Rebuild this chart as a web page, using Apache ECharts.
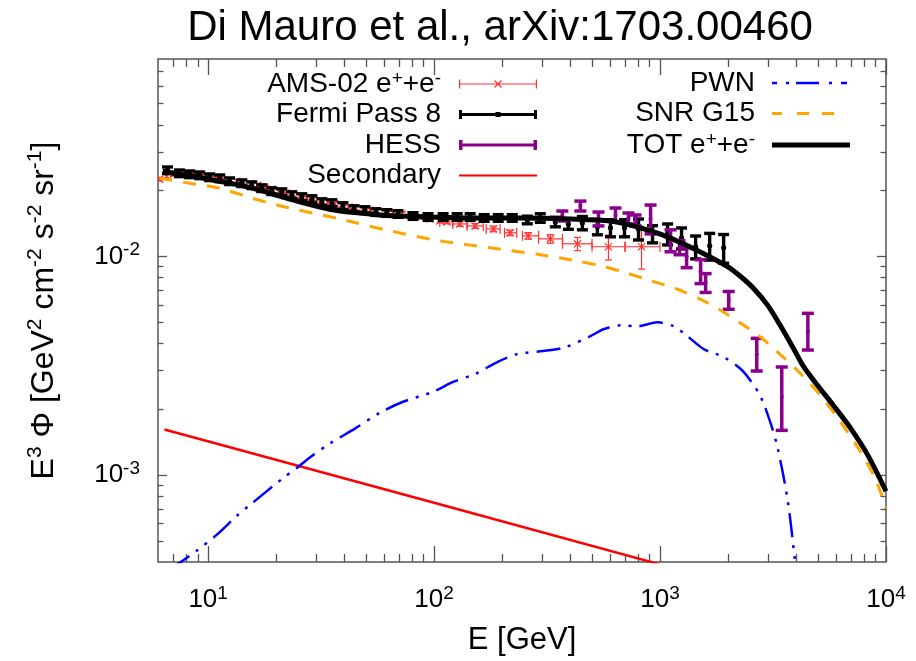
<!DOCTYPE html>
<html><head><meta charset="utf-8">
<script src="https://cdn.jsdelivr.net/npm/echarts@6/dist/echarts.min.js"></script>
<style>html,body{margin:0;padding:0;background:#fff}#c{width:916px;height:661px}</style>
</head><body><div id="c"></div>
<script>
// ---------------- data ----------------
const titleText = 'Di Mauro et al., arXiv:1703.00460';
const xRange = [6, 10000];          // E [GeV]
const yRange = [4e-4, 0.08];        // E^3 Phi
const xMajor = [10, 100, 1000, 10000];
const yMajor = [1e-3, 1e-2];

// TOT e+ + e- model
const totE = [6.29, 7.47, 9.17, 11.2, 13.8, 16.9, 20.7, 25.4, 31.2, 38.3, 46.9, 57.6, 70.6, 95.9, 144, 241, 401, 603, 762, 907, 1079, 1324, 1624, 1991, 2274, 2596, 2997, 3423, 3909, 4328, 4993, 5876, 6992, 8315, 10000];
const totF = [0.02452, 0.02376, 0.02303, 0.02208, 0.02118, 0.02009, 0.01888, 0.01775, 0.01683, 0.01615, 0.01580, 0.01547, 0.01531, 0.01515, 0.01500, 0.01500, 0.01484, 0.01453, 0.01379, 0.01308, 0.01229, 0.01118, 0.01007, 0.00898, 0.00809, 0.00713, 0.00597, 0.00479, 0.00377, 0.00312, 0.00256, 0.00207, 0.00163, 0.00123, 0.000843];

// SNR G15 model
const snrE = [6.09, 8.28, 11.2, 16.1, 22.9, 38.3, 63.8, 106, 177, 295, 422, 545, 703, 907, 1172, 1513, 1855, 2274, 2790, 3423, 4199, 5152, 6310, 7745, 9030, 10000];
const snrF = [0.02279, 0.02163, 0.02053, 0.01830, 0.01665, 0.01484, 0.01308, 0.01179, 0.01095, 0.01018, 0.00956, 0.00907, 0.00843, 0.00775, 0.00713, 0.00636, 0.00567, 0.00494, 0.00427, 0.00354, 0.00290, 0.00230, 0.00174, 0.00127, 0.000946, 0.000706];

// PWN model
const pwnE = [6.75, 7.71, 8.89, 10.9, 13.52, 15.3, 21.4, 24.69, 28.19, 34.58, 44.64, 57.62, 72.87, 99.0, 121.4, 152.0, 190.3, 233.4, 304.3, 380.9, 491.8, 561.6, 667.9, 794.9, 974.8, 1148, 1324, 1560, 1912, 2275, 2520, 2790, 3090, 3320, 3676, 3950, 4074];
const pwnF = [0.000369, 0.000405, 0.000450, 0.000532, 0.000656, 0.000729, 0.000966, 0.001077, 0.001204, 0.001393, 0.001631, 0.001928, 0.002163, 0.002402, 0.002666, 0.002900, 0.003286, 0.003573, 0.003688, 0.003846, 0.004315, 0.004642, 0.004842, 0.004792, 0.004996, 0.004792, 0.004315, 0.003765, 0.003463, 0.003055, 0.002694, 0.002279, 0.001718, 0.001322, 0.000760, 0.000410, 0.000305];

// Secondary
const secE = [6.41, 100, 1000];
const secF = [0.001614, 0.000747, 0.00039];

// Fermi Pass 8 (relative error)
const fermiE = [6.61, 7.47, 8.28, 9.17, 10.15, 11.25, 12.45, 14.08, 15.59, 17.27, 19.12, 21.18, 23.46, 25.98, 28.77, 31.87, 35.30, 39.49, 44.18, 49.43, 55.31, 61.88, 69.24, 80.71, 94.06, 109.6, 126.5, 144.4, 166.6, 192.2, 221.8, 258.5, 295.1, 344.1, 392.9, 453.2, 528.2, 603.4, 696.0, 802.9, 926.3, 1080, 1245, 1437, 1658, 1912];
const fermiF = [0.02478, 0.02401, 0.02376, 0.02351, 0.02303, 0.02279, 0.02208, 0.02163, 0.02118, 0.02053, 0.01989, 0.01968, 0.01908, 0.01868, 0.01830, 0.01772, 0.01754, 0.01700, 0.01647, 0.01630, 0.01596, 0.01580, 0.01564, 0.01531, 0.01515, 0.01515, 0.01515, 0.01515, 0.01500, 0.01500, 0.01500, 0.01469, 0.01500, 0.01438, 0.01408, 0.01423, 0.01365, 0.01351, 0.01351, 0.01336, 0.01268, 0.01268, 0.01216, 0.01107, 0.01118, 0.01095];
const fermiErr = [0.035, 0.035, 0.035, 0.035, 0.035, 0.035, 0.035, 0.035, 0.035, 0.035, 0.035, 0.035, 0.035, 0.035, 0.035, 0.035, 0.035, 0.035, 0.035, 0.035, 0.035, 0.035, 0.035, 0.035, 0.035, 0.035, 0.035, 0.035, 0.035, 0.035, 0.035, 0.04, 0.045, 0.05, 0.055, 0.07, 0.08, 0.09, 0.09, 0.11, 0.09, 0.11, 0.11, 0.12, 0.14, 0.15];

// AMS-02 e+ + e- (relative error; energy bins only where visible)
const amsE = [6.09, 6.55, 7.03, 7.55, 8.11, 8.71, 9.36, 10.05, 10.80, 11.60, 12.45, 13.38, 14.37, 15.43, 16.58, 17.81, 19.12, 20.54, 22.07, 23.70, 25.46, 27.35, 29.37, 31.54, 33.88, 36.39, 39.08, 41.98, 45.09, 48.43, 52.02, 55.87, 60.62, 65.79, 72.14, 79.07, 86.69, 96.0, 106.3, 114, 130, 152, 183, 217, 261, 327, 431, 591, 828];
const amsF = [0.02255, 0.02327, 0.02376, 0.02376, 0.02376, 0.02351, 0.02327, 0.02303, 0.02279, 0.02255, 0.02231, 0.02208, 0.02185, 0.02140, 0.02118, 0.02074, 0.02031, 0.01989, 0.01948, 0.01928, 0.01888, 0.01849, 0.01830, 0.01791, 0.01772, 0.01736, 0.01718, 0.01682, 0.01665, 0.01647, 0.01630, 0.01613, 0.01596, 0.01580, 0.01564, 0.01547, 0.01515, 0.01484, 0.01453, 0.01438, 0.01408, 0.01379, 0.01336, 0.01282, 0.01242, 0.01203, 0.01142, 0.01107, 0.01107];
const amsErr = [0.02, 0.02, 0.02, 0.02, 0.02, 0.02, 0.02, 0.02, 0.02, 0.02, 0.02, 0.02, 0.02, 0.02, 0.02, 0.02, 0.02, 0.02, 0.02, 0.02, 0.02, 0.02, 0.02, 0.02, 0.02, 0.02, 0.02, 0.02, 0.02, 0.02, 0.02, 0.02, 0.02, 0.02, 0.02, 0.02, 0.02, 0.02, 0.02, 0.02, 0.025, 0.025, 0.03, 0.03, 0.035, 0.045, 0.07, 0.13, 0.21];
const amsBinnedE = [114, 130, 152, 183, 217, 261, 327, 431, 591, 828];
const amsBinLo = [106, 121, 140, 170, 205, 246, 290, 370, 500, 700];
const amsBinHi = [121, 140, 165, 196, 232, 290, 370, 500, 700, 1000];

// HESS
const hessE = [369.5, 444, 534, 635, 725, 779, 908, 1113, 1220, 1311, 1512, 1591, 2013, 2679, 3457, 4510];
const hessF = [0.01531, 0.01700, 0.01484, 0.01547, 0.01500, 0.01453, 0.01484, 0.01179, 0.01107, 0.00997, 0.00852, 0.00759, 0.00629, 0.00357, 0.00228, 0.00455];
const hessLo = [0.01453, 0.01613, 0.01379, 0.01438, 0.01408, 0.01379, 0.01268, 0.01050, 0.01018, 0.00888, 0.00751, 0.00684, 0.00573, 0.00299, 0.00160, 0.00373];
const hessHi = [0.01613, 0.01791, 0.01596, 0.01665, 0.01580, 0.01547, 0.01718, 0.01323, 0.01179, 0.01095, 0.00966, 0.00834, 0.00691, 0.00422, 0.00312, 0.00549];

// ---------------- chart ----------------
const FONT = '"Liberation Sans", Arial, Helvetica, sans-serif';
const FRAME = '#555';
const log10 = Math.log10;

function minorTicks(lo, hi) {
  const out = [];
  for (let p = Math.floor(log10(lo)); p <= Math.ceil(log10(hi)); p++) {
    for (let k = 2; k <= 9; k++) {
      const v = k * Math.pow(10, p);
      if (v > lo * 1.0001 && v < hi * 0.9999) out.push(log10(v));
    }
  }
  return out;
}
const rect = (x, y, w, h) => `M${x},${y}L${x + w},${y}L${x + w},${y + h}L${x},${y + h}Z`;
const corners = 'M0,0L0.01,0L0,0.01Z M78,12L77.99,12L78,11.99Z ';
const icons = {
  ams: 'path://' + corners + rect(0, 5.4, 78, 1.2) + rect(0, 1.5, 1.2, 9) + rect(76.8, 1.5, 1.2, 9) +
       'M35.08,2.92L35.92,2.08L42.92,9.08L42.08,9.92Z M35.08,9.08L42.08,2.08L42.92,2.92L35.92,9.92Z',
  fermi: 'path://' + corners + rect(0, 4.5, 78, 3) + rect(0, 1.5, 3, 9) + rect(75, 1.5, 3, 9) + rect(36.5, 3.5, 5, 5),
  hess: 'path://' + corners + rect(0, 4.4, 78, 3.2) + rect(0, 1, 3.5, 10) + rect(74.5, 1, 3.5, 10),
  sec: 'path://' + corners + rect(0, 5, 78, 2),
  pwn: 'path://' + corners + rect(0, 4.8, 5, 2.4) + rect(14, 4.8, 3, 2.4) + rect(24, 4.8, 23, 2.4) + rect(57, 4.8, 3, 2.4) + rect(69, 4.8, 6, 2.4),
  snr: 'path://' + corners + rect(0, 4.5, 10, 3) + rect(25, 4.5, 12, 3) + rect(50, 4.5, 12, 3),
  tot: 'path://' + corners + rect(0, 3.5, 78, 5)
};

const legendLabels = {
  'AMS-02 e+e-': '{t|AMS-02 e}{s|+}{t|+e}{s|-}',
  'TOT e+e-': '{t|TOT e}{s|+}{t|+e}{s|-}'
};
const supRich = (size, supSize, lh) => ({
  t: { fontSize: size, lineHeight: lh, fontFamily: FONT, color: '#000' },
  b: { fontSize: size, lineHeight: lh, fontFamily: FONT, color: '#000' },
  s: { fontSize: supSize, lineHeight: Math.round(lh * 0.33), verticalAlign: 'top', fontFamily: FONT, color: '#000' }
});

function legendCfg(names, rightPx, padRight) {
  return {
    data: names.map(n => ({ name: n[0], icon: icons[n[1]] })),
    orient: 'vertical', align: 'right', right: rightPx, top: 69,
    itemWidth: 78, itemHeight: 12, itemGap: 2.5, padding: 0,
    selectedMode: false,
    itemStyle: { borderWidth: 0 },
    formatter: n => legendLabels[n] || ('{t|' + n + '}'),
    textStyle: { padding: [0, padRight, 0, 0], fontSize: 28, fontFamily: FONT, color: '#000', rich: supRich(28, 19, 30) }
  };
}

function errRender(color, lw, capHalf, dotR) {
  return function (params, api) {
    const E = api.value(0), F = api.value(1), lo = api.value(2), hi = api.value(3);
    const c = api.coord([E, F]), a = api.coord([E, hi]), b = api.coord([E, lo]);
    const st = { stroke: color, lineWidth: lw };
    return { type: 'group', children: [
      { type: 'line', shape: { x1: c[0], y1: a[1], x2: c[0], y2: b[1] }, style: st },
      { type: 'line', shape: { x1: c[0] - capHalf, y1: a[1], x2: c[0] + capHalf, y2: a[1] }, style: st },
      { type: 'line', shape: { x1: c[0] - capHalf, y1: b[1], x2: c[0] + capHalf, y2: b[1] }, style: st },
      { type: 'circle', shape: { cx: c[0], cy: c[1], r: dotR }, style: { fill: color } }
    ] };
  };
}
const AMS_COLOR = '#ff3030';
function amsRender(params, api) {
  const E = api.value(0), F = api.value(1), lo = api.value(2), hi = api.value(3);
  const bLo = api.value(4), bHi = api.value(5);
  const c = api.coord([E, F]), a = api.coord([E, hi]), b = api.coord([E, lo]);
  const st = { stroke: AMS_COLOR, lineWidth: 1.2 };
  const m = 3.6, cap = 3.5;
  const ch = [
    { type: 'line', shape: { x1: c[0], y1: a[1], x2: c[0], y2: b[1] }, style: st },
    { type: 'line', shape: { x1: c[0] - cap, y1: a[1], x2: c[0] + cap, y2: a[1] }, style: st },
    { type: 'line', shape: { x1: c[0] - cap, y1: b[1], x2: c[0] + cap, y2: b[1] }, style: st },
    { type: 'line', shape: { x1: c[0] - m, y1: c[1] - m, x2: c[0] + m, y2: c[1] + m }, style: st },
    { type: 'line', shape: { x1: c[0] - m, y1: c[1] + m, x2: c[0] + m, y2: c[1] - m }, style: st }
  ];
  if (isFinite(bLo) && isFinite(bHi)) {
    const l = api.coord([bLo, F]), r = api.coord([bHi, F]);
    ch.push({ type: 'line', shape: { x1: l[0], y1: c[1], x2: r[0], y2: c[1] }, style: st });
    ch.push({ type: 'line', shape: { x1: l[0], y1: c[1] - 5, x2: l[0], y2: c[1] + 5 }, style: st });
    ch.push({ type: 'line', shape: { x1: r[0], y1: c[1] - 5, x2: r[0], y2: c[1] + 5 }, style: st });
  }
  return { type: 'group', children: ch };
}

const pairs = (xs, ys) => xs.map((x, i) => [x, ys[i]]);
const amsData = amsE.map((e, i) => {
  const k = amsBinnedE.indexOf(e);
  return [e, amsF[i], amsF[i] * (1 - amsErr[i]), amsF[i] * (1 + amsErr[i]),
          k >= 0 ? amsBinLo[k] : '-', k >= 0 ? amsBinHi[k] : '-'];
});
const fermiData = fermiE.map((e, i) => [e, fermiF[i], fermiF[i] * (1 - fermiErr[i]), fermiF[i] * (1 + fermiErr[i])]);
const hessData = hessE.map((e, i) => [e, hessF[i], hessLo[i], hessHi[i]]);

const xl = [log10(xRange[0]), log10(xRange[1])];
const yl = [log10(yRange[0]), log10(yRange[1])];
const tickStyle = { color: FRAME, width: 1.3 };
const tickRich = supRich(26, 19, 32);
function decoX(pos, vals, len, labels) {
  return {
    type: 'value', position: pos, min: xl[0], max: xl[1], gridIndex: 0,
    axisLine: { show: false }, splitLine: { show: false },
    axisTick: { show: true, inside: true, length: len, customValues: vals, lineStyle: tickStyle },
    axisLabel: labels ? { show: true, customValues: vals, margin: 22, formatter: v => '{b|10}{s|' + Math.round(v) + '}', rich: tickRich } : { show: false }
  };
}
function decoY(pos, vals, len, labels) {
  return {
    type: 'value', position: pos, min: yl[0], max: yl[1], gridIndex: 0,
    axisLine: { show: false }, splitLine: { show: false },
    axisTick: { show: true, inside: true, length: len, customValues: vals, lineStyle: tickStyle },
    axisLabel: labels ? { show: true, customValues: vals, margin: 18, formatter: v => '{b|10}{s|' + Math.round(v) + '}', rich: tickRich } : { show: false }
  };
}
const xMajL = xMajor.map(log10), yMajL = yMajor.map(log10);
const xMinL = minorTicks(xRange[0], xRange[1]), yMinL = minorTicks(yRange[0], yRange[1]);

const option = {
  backgroundColor: '#fff',
  animation: false,
  title: { text: titleText, left: 495, textAlign: 'center', top: 2,
           textStyle: { fontSize: 42, fontWeight: 'normal', fontFamily: FONT, color: '#000' } },
  grid: { left: 158, top: 59, width: 728, height: 504, show: true, borderColor: FRAME, borderWidth: 1.5, backgroundColor: 'transparent' },
  legend: [
    legendCfg([['AMS-02 e+e-', 'ams'], ['Fermi Pass 8', 'fermi'], ['HESS', 'hess'], ['Secondary', 'sec']], 379, 13),
    legendCfg([['PWN', 'pwn'], ['SNR G15', 'snr'], ['TOT e+e-', 'tot']], 66, 12)
  ],
  xAxis: [
    { type: 'log', min: xRange[0], max: xRange[1], show: true, axisLine: { show: false }, axisTick: { show: false }, axisLabel: { show: false }, splitLine: { show: false },
      name: 'E [GeV]', nameLocation: 'middle', nameGap: 63, nameTextStyle: { fontSize: 31, fontFamily: FONT, color: '#000' } },
    decoX('bottom', xMajL, 16, true), decoX('bottom', xMinL, 8, false),
    decoX('top', xMajL, 16, false), decoX('top', xMinL, 8, false)
  ],
  yAxis: [
    { type: 'log', min: yRange[0], max: yRange[1], show: true, axisLine: { show: false }, axisTick: { show: false }, axisLabel: { show: false }, splitLine: { show: false },
      name: '{t|E}{s|3}{t| Φ [GeV}{s|2}{t| cm}{s|-2}{t| s}{s|-2}{t| sr}{s|-1}{t|]}', nameLocation: 'middle', nameGap: 95, nameRotate: 90,
      nameTextStyle: { rich: supRich(32, 21, 38) } },
    decoY('left', yMajL, 9, true), decoY('left', yMinL, 5.5, false),
    decoY('right', yMajL, 9, false), decoY('right', yMinL, 5.5, false)
  ],
  series: [
    { name: 'AMS-02 e+e-', type: 'custom', xAxisIndex: 0, yAxisIndex: 0, clip: true, itemStyle: { color: AMS_COLOR },
      renderItem: amsRender, encode: { x: 0, y: 1 }, data: amsData },
    { name: 'Fermi Pass 8', type: 'custom', xAxisIndex: 0, yAxisIndex: 0, clip: true, itemStyle: { color: '#000' },
      renderItem: errRender('#000', 3.4, 5.5, 2.6), encode: { x: 0, y: 1 }, data: fermiData },
    { name: 'HESS', type: 'custom', xAxisIndex: 0, yAxisIndex: 0, clip: true, itemStyle: { color: '#8b008b' },
      renderItem: errRender('#8b008b', 3.5, 6, 2), encode: { x: 0, y: 1 }, data: hessData },
    { name: 'Secondary', type: 'line', xAxisIndex: 0, yAxisIndex: 0, symbol: 'none', clip: true,
      lineStyle: { color: '#ff0000', width: 2.5 }, itemStyle: { color: '#ff0000' }, data: pairs(secE, secF) },
    { name: 'PWN', type: 'line', xAxisIndex: 0, yAxisIndex: 0, symbol: 'none', clip: true, smooth: 0.3,
      lineStyle: { color: '#0000ff', width: 2.5, type: [24, 8, 3, 8, 3, 8] }, itemStyle: { color: '#0000ff' }, data: pairs(pwnE, pwnF) },
    { name: 'SNR G15', type: 'line', xAxisIndex: 0, yAxisIndex: 0, symbol: 'none', clip: true, smooth: 0.3,
      lineStyle: { color: '#ffa500', width: 3, type: [13, 11] }, itemStyle: { color: '#ffa500' }, data: pairs(snrE, snrF) },
    { name: 'TOT e+e-', type: 'line', xAxisIndex: 0, yAxisIndex: 0, symbol: 'none', clip: true, smooth: 0.3,
      lineStyle: { color: '#000', width: 5 }, itemStyle: { color: '#000' }, data: pairs(totE, totF) }
  ]
};
const chart = echarts.init(document.getElementById('c'), null, { renderer: 'canvas' });
chart.setOption(option);
</script></body></html>
